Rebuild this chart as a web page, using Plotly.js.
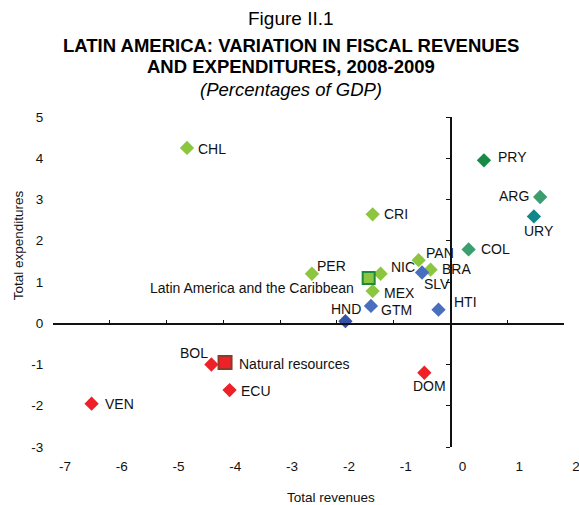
<!DOCTYPE html>
<html>
<head>
<meta charset="utf-8">
<script src="https://cdn.plot.ly/plotly-3.0.1.min.js"></script>
<style>html,body{margin:0;padding:0;background:#fff;}#chart{width:579px;height:505px;}</style>
</head>
<body>
<div id="chart"></div>
<script>
// ---- Data (percentage points of GDP, change 2008-2009) ----
const lightGreenCodes = ['CHL', 'CRI', 'PER', 'NIC', 'PAN', 'BRA', 'MEX'];
const lightGreenRev   = [-4.64, -1.37, -2.44, -1.23, -0.56, -0.35, -1.37];
const lightGreenExp   = [4.25, 2.64, 1.20, 1.20, 1.53, 1.30, 0.78];

const blueCodes = ['SLV', 'GTM', 'HTI', 'HND'];
const blueRev   = [-0.50, -1.40, -0.21, -1.85];
const blueExp   = [1.23, 0.42, 0.33, 0.05];

const darkGreenCodes = ['PRY', 'ARG', 'COL', 'URY'];
const darkGreenRev   = [0.59, 1.58, 0.32, 1.47];
const darkGreenExp   = [3.95, 3.06, 1.79, 2.59];

const redCodes = ['BOL', 'ECU', 'VEN', 'DOM'];
const redRev   = [-4.21, -3.89, -6.32, -0.46];
const redExp   = [-1.00, -1.62, -1.95, -1.20];

const lacLabel = ['Latin America and the Caribbean'];
const lacRev   = [-1.44];
const lacExp   = [1.10];

const natResLabel = ['Natural resources'];
const natResRev   = [-3.97];
const natResExp   = [-0.95];

const xTicks = [-7, -6, -5, -4, -3, -2, -1, 0, 1, 2];
const xTickLabels = ['-7', '-6', '-5', '-4', '-3', '-2', '-1', '0', '1', '2'];
const yTicks = [-3, -2, -1, 0, 1, 2, 3, 4, 5];
const yTickLabels = ['-3', '-2', '-1', '0', '1', '2', '3', '4', '5'];

const titleLines = ['Figure II.1',
  '<b>LATIN AMERICA: VARIATION IN FISCAL REVENUES</b>',
  '<b>AND EXPENDITURES, 2008-2009</b>',
  '<i>(Percentages of GDP)</i>'];
const xTitle = 'Total revenues';
const yTitle = 'Total expenditures';

// ---- Styles ----
const FONT = 'Liberation Sans, Arial, Helvetica, sans-serif';
const TXT = '#111';
const lblFont = {family: FONT, size: 14, color: TXT};
// label placement per point: [anchor, xshift px, yshift px]
const lightGreenLbl = [['left', 9, -1], ['left', 9, 0], ['left', 3, 8], ['left', 8, 7], ['left', 5, 7], ['left', 9, 1], ['left', 9, -2]];
const blueLbl = [['left', 0, -11], ['left', 8, -4], ['left', 13, 8], ['center', 1, 12]];
const darkGreenLbl = [['left', 12, 3], ['right', -9, 1], ['left', 10, 0], ['center', 5, -15]];
const redLbl = [['right', -1, 12], ['left', 9, -1], ['left', 11, 0], ['center', 5, -13]];
const lacLbl = [['right', -13, -10]];
const natResLbl = [['left', 12, -2]];
const darkGreenColors = ['#168B45', '#3A9E6E', '#3A9E6E', '#11878A'];
const blueColors = ['#4A6EBE', '#4A6EBE', '#4A6EBE', '#3552A6'];

function diamondTrace(x, y, text, color) {
  return {
    type: 'scatter', mode: 'markers', x: x, y: y, text: text, cliponaxis: false,
    marker: {symbol: 'diamond', size: 11, color: color, line: {width: 0}},
    hoverinfo: 'x+y+text', showlegend: false
  };
}

const traces = [
  diamondTrace(lightGreenRev, lightGreenExp, lightGreenCodes, '#8CC63E'),
  diamondTrace(blueRev, blueExp, blueCodes, blueColors),
  diamondTrace(darkGreenRev, darkGreenExp, darkGreenCodes, darkGreenColors),
  diamondTrace(redRev, redExp, redCodes, '#ED2127'),
  {
    type: 'scatter', mode: 'markers', x: lacRev, y: lacExp, text: lacLabel, cliponaxis: false,
    marker: {symbol: 'square', size: 12, color: '#8CC63E', line: {width: 2, color: '#1B8A3C'}},
    showlegend: false
  },
  {
    type: 'scatter', mode: 'markers', x: natResRev, y: natResExp, text: natResLabel, cliponaxis: false,
    marker: {symbol: 'square', size: 13, color: '#ED2127', line: {width: 2, color: '#8E3A26'}},
    showlegend: false
  },
  // empty trace so the crossing axes (x2/y2) are drawn
  {type: 'scatter', mode: 'markers', x: [], y: [], xaxis: 'x2', yaxis: 'y2', showlegend: false, hoverinfo: 'skip'}
];

const annotations = [];
function addLabels(xs, ys, texts, placement) {
  xs.forEach((x, i) => {
    const p = placement[i];
    annotations.push({
      xref: 'x', yref: 'y', x: x, y: ys[i], text: texts[i], showarrow: false,
      xanchor: p[0], yanchor: 'middle', xshift: p[1], yshift: p[2], font: lblFont
    });
  });
}
addLabels(lightGreenRev, lightGreenExp, lightGreenCodes, lightGreenLbl);
addLabels(blueRev, blueExp, blueCodes, blueLbl);
addLabels(darkGreenRev, darkGreenExp, darkGreenCodes, darkGreenLbl);
addLabels(redRev, redExp, redCodes, redLbl);
addLabels(lacRev, lacExp, lacLabel, lacLbl);
addLabels(natResRev, natResExp, natResLabel, natResLbl);

const xRange = [xTicks[0], xTicks[xTicks.length - 1]];
const yRange = [yTicks[0], yTicks[yTicks.length - 1]];
const yZeroFrac = (0 - yRange[0]) / (yRange[1] - yRange[0]);
const xZeroFrac = (0 - xRange[0]) / (xRange[1] - xRange[0]);

const titleY = [1.297, 1.218, 1.152, 1.082];
const titleSize = [19, 18.5, 18.5, 18.5];
titleLines.forEach((t, i) => annotations.push({
  xref: 'paper', yref: 'paper', x: 0.466, y: titleY[i], xanchor: 'center', yanchor: 'middle',
  text: t, showarrow: false, font: {family: FONT, size: titleSize[i], color: '#000'}
}));
annotations.push({xref: 'paper', yref: 'paper', x: 0.544, y: -0.152, xanchor: 'center', yanchor: 'middle',
  text: xTitle, showarrow: false, font: {family: FONT, size: 13.5, color: TXT}});
annotations.push({xref: 'paper', yref: 'paper', x: -0.068, y: 0.612, xanchor: 'center', yanchor: 'middle',
  text: yTitle, textangle: -90, showarrow: false, font: {family: FONT, size: 13.5, color: TXT}});

const layout = {
  width: 579, height: 505,
  margin: {l: 53, r: 15, t: 117, b: 58},
  paper_bgcolor: '#fff', plot_bgcolor: '#fff',
  showlegend: false,
  font: {family: FONT, size: 13, color: TXT},
  xaxis: {
    range: xRange, tickvals: xTicks, ticktext: xTickLabels, showgrid: false, zeroline: false, showline: false,
    ticks: 'outside', ticklen: 7, tickcolor: 'rgba(0,0,0,0)', ticklabelshift: 12,
    ticklabeloverflow: 'allow',
    tickfont: {family: FONT, size: 13.5, color: TXT}, fixedrange: true
  },
  yaxis: {
    range: yRange, tickvals: yTicks, ticktext: yTickLabels, showgrid: false, zeroline: false, showline: false,
    ticks: 'outside', ticklen: 6, tickcolor: 'rgba(0,0,0,0)',
    tickfont: {family: FONT, size: 13.5, color: TXT}, fixedrange: true
  },
  xaxis2: {
    overlaying: 'x', anchor: 'free', position: yZeroFrac, range: xRange, tickvals: xTicks,
    showgrid: false, zeroline: false, showline: true, linecolor: '#111', linewidth: 1.5,
    ticks: 'inside', ticklen: 3, tickwidth: 1, tickcolor: '#111', showticklabels: false, fixedrange: true
  },
  yaxis2: {
    overlaying: 'y', anchor: 'free', position: xZeroFrac, side: 'left', range: yRange, tickvals: yTicks,
    showgrid: false, zeroline: false, showline: true, linecolor: '#111', linewidth: 1.5,
    ticks: 'outside', ticklen: 4, tickwidth: 1, tickcolor: '#111', showticklabels: false, fixedrange: true
  },
  annotations: annotations
};

Plotly.newPlot('chart', traces, layout, {staticPlot: true, displayModeBar: false});
</script>
</body>
</html>
